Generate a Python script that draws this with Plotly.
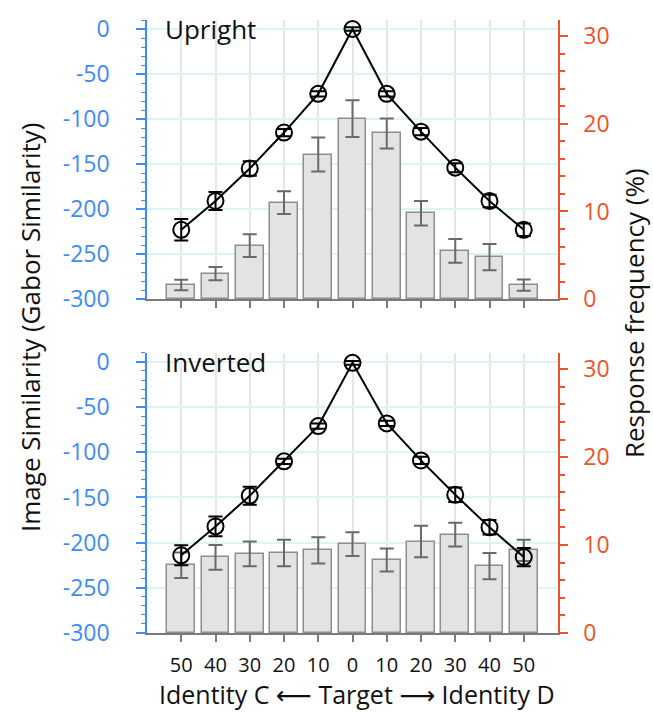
import plotly.graph_objects as go

# ---- data ----
offsets = [-50, -40, -30, -20, -10, 0, 10, 20, 30, 40, 50]
tick_labels = ["50", "40", "30", "20", "10", "0", "10", "20", "30", "40", "50"]

sim_ticks = [0, -50, -100, -150, -200, -250, -300]
sim_tick_labels = ["0", "-50", "-100", "-150", "-200", "-250", "-300"]
freq_ticks = [0, 10, 20, 30]

# Upright
up_sim = [-223, -191, -155, -115, -72, 0, -72, -114, -154, -191, -223]
up_sim_err = [12, 10, 8, 4, 3, 2, 3, 4, 5, 7, 7]
up_freq = [1.6, 2.9, 6.1, 11.0, 16.5, 20.6, 18.9, 9.8, 5.5, 4.8, 1.6]
up_freq_err = [0.6, 0.75, 1.3, 1.3, 1.95, 2.1, 1.7, 1.4, 1.35, 1.5, 0.65]

# Inverted
inv_sim = [-214, -182, -148, -110, -71, -1, -68, -109, -147, -183, -216]
inv_sim_err = [11, 11, 10, 3, 3, 2, 3, 4, 8, 8, 10]
inv_freq = [7.7, 8.6, 9.0, 9.1, 9.4, 10.1, 8.3, 10.4, 11.2, 7.6, 9.4]
inv_freq_err = [1.45, 1.4, 1.4, 1.5, 1.5, 1.35, 1.3, 1.8, 1.35, 1.5, 1.2]

panel_names = ["Upright", "Inverted"]

BLUE = "#3b8cf6"
RED = "#ee5326"
FONT = "Open Sans"

L, R, T, B = 147, 95, 18, 80
W, H = 653, 713

fig = go.Figure()

def add_panel(xax, yfreq, ysim, freq, ferr, sim, serr):
    fig.add_trace(go.Bar(
        x=offsets, y=freq, width=8.1, xaxis=xax, yaxis=yfreq,
        marker=dict(color="#e3e3e3", line=dict(color="#8e8e8e", width=1.5)),
        error_y=dict(type="data", array=ferr, color="#6a6a6a", thickness=2, width=7),
        showlegend=False, hoverinfo="skip"))
    fig.add_trace(go.Scatter(
        x=offsets, y=sim, xaxis=xax, yaxis=ysim, mode="lines+markers",
        line=dict(color="black", width=2),
        marker=dict(symbol="circle-open", size=16, color="black", line=dict(width=2)),
        error_y=dict(type="data", array=serr, color="black", thickness=2, width=7),
        showlegend=False, hoverinfo="skip"))

add_panel("x", "y", "y2", up_freq, up_freq_err, up_sim, up_sim_err)
add_panel("x2", "y3", "y4", inv_freq, inv_freq_err, inv_sim, inv_sim_err)

top_dom = [0.5447, 1.0]
bot_dom = [0.0, 0.4569]

def xaxis_cfg(anchor, labels):
    return dict(domain=[0, 1], anchor=anchor, range=[-60, 60],
                tickvals=offsets, ticktext=tick_labels, showticklabels=labels,
                ticks="outside", ticklen=7, tickwidth=1.5, tickcolor="#7a7a7a",
                showline=True, linecolor="#7a7a7a", linewidth=1.5,
                showgrid=True, gridcolor="#e6e6e6", gridwidth=2,
                zeroline=False, tickfont=dict(family=FONT, size=20, color="#111"),
                ticklabelstandoff=6, fixedrange=True)

def freq_cfg(dom, anchor):
    return dict(domain=dom, anchor=anchor, side="right", range=[0, 31.85],
                tickvals=freq_ticks, ticks="outside", ticklen=8, tickwidth=1.5,
                tickcolor=RED, showline=True, linecolor=RED, linewidth=1.5,
                minor=dict(dtick=2, ticks="outside", ticklen=5, tickcolor=RED, tickwidth=1.5),
                showgrid=False, zeroline=False, ticklabelstandoff=11,
                tickfont=dict(family=FONT, size=23, color=RED))

def sim_cfg(over, anchor):
    return dict(overlaying=over, anchor=anchor, side="left", range=[-300, 10],
                tickvals=sim_ticks, ticktext=sim_tick_labels, ticks="outside",
                ticklen=9, tickwidth=1.5, tickcolor=BLUE, showline=True,
                linecolor=BLUE, linewidth=1.5,
                minor=dict(dtick=10, ticks="outside", ticklen=4, tickcolor=BLUE, tickwidth=1.2),
                showgrid=True, gridcolor="#dcf4f7", gridwidth=1.5, zeroline=False,
                ticklabelstandoff=22,
                tickfont=dict(family=FONT, size=23, color=BLUE))

fig.update_layout(
    width=W, height=H,
    margin=dict(l=L, r=R, t=T, b=B),
    paper_bgcolor="white", plot_bgcolor="white",
    bargap=0,
    xaxis=xaxis_cfg("y", False),
    xaxis2=xaxis_cfg("y3", True),
    yaxis=freq_cfg(top_dom, "x"),
    yaxis2=sim_cfg("y", "x"),
    yaxis3=freq_cfg(bot_dom, "x2"),
    yaxis4=sim_cfg("y3", "x2"),
)

def px_to_paper_x(px):
    return (px - L) / (W - L - R)

def px_to_paper_y(py):
    return (H - B - py) / (H - T - B)

fig.add_annotation(text=panel_names[0], x=-55.3, y=0, xref="x", yref="y2",
                   xanchor="left", yanchor="middle", showarrow=False,
                   font=dict(family=FONT, size=26, color="#111"))
fig.add_annotation(text=panel_names[1], x=-55.3, y=0, xref="x2", yref="y4",
                   xanchor="left", yanchor="middle", showarrow=False,
                   font=dict(family=FONT, size=26, color="#111"))

arrow_l = '<span style="font-family:DejaVu Sans">\u27f5</span>'
arrow_r = '<span style="font-family:DejaVu Sans">\u27f6</span>'
fig.add_annotation(text="Identity C " + arrow_l + " Target " + arrow_r + " Identity D",
                   x=px_to_paper_x(357), y=px_to_paper_y(694), xref="paper", yref="paper",
                   xanchor="center", yanchor="middle", showarrow=False,
                   font=dict(family=FONT, size=25, color="#111"))
fig.add_annotation(text="Image Similarity (Gabor Similarity)", textangle=-90,
                   x=px_to_paper_x(30), y=px_to_paper_y(326), xref="paper", yref="paper",
                   xanchor="center", yanchor="middle", showarrow=False,
                   font=dict(family=FONT, size=26, color="#111"))
fig.add_annotation(text="Response frequency (%)", textangle=-90,
                   x=px_to_paper_x(634), y=px_to_paper_y(312), xref="paper", yref="paper",
                   xanchor="center", yanchor="middle", showarrow=False,
                   font=dict(family=FONT, size=26, color="#111"))

fig.write_html("out.html")
